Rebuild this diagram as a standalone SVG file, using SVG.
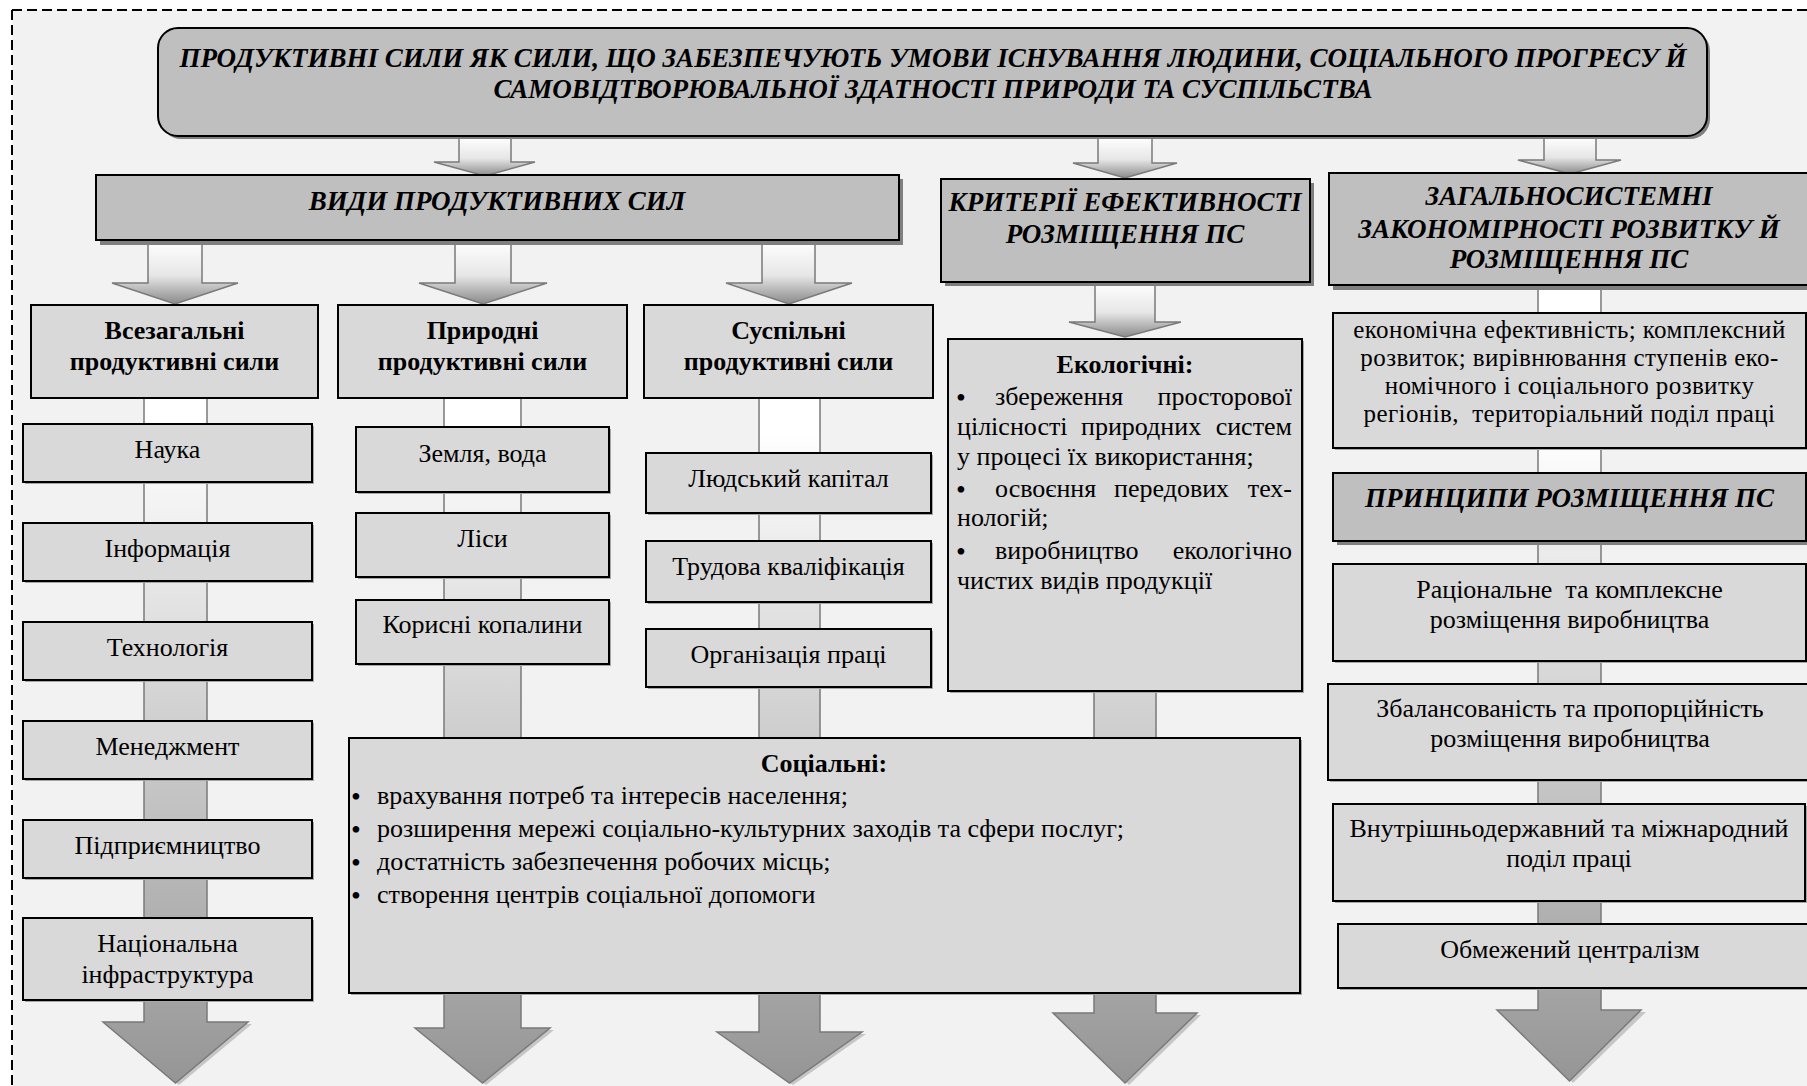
<svg xmlns="http://www.w3.org/2000/svg" width="1807" height="1086" viewBox="0 0 1807 1086">
<style>
.hb{font-family:"Liberation Serif",serif;font-weight:bold;font-style:italic;font-size:27px;text-anchor:middle;fill:#000}
.cb{font-family:"Liberation Serif",serif;font-weight:bold;font-size:26px;text-anchor:middle;fill:#000}
.t{font-family:"Liberation Serif",serif;font-size:26px;text-anchor:middle;fill:#000}
.ts{font-family:"Liberation Serif",serif;font-size:25px;letter-spacing:0.4px;text-anchor:middle;fill:#000}
.tl{font-family:"Liberation Serif",serif;font-size:26px;fill:#000}
.te{font-family:"Liberation Serif",serif;font-size:26px;text-anchor:end;fill:#000}
.bu{font-family:"Liberation Serif",serif;font-size:28px;fill:#000}
.hdr{fill:#bfbfbf;stroke:#000;stroke-width:2}
.itm{fill:#d9d9d9;stroke:#000;stroke-width:2}
.sh{fill:#7f7f7f}
.ish{fill:#a6a6a6}
.sa{fill:url(#gs);stroke:#7a7a7a;stroke-width:1.5}
.la{fill:url(#gl);stroke:#7a7a7a;stroke-width:1.5}
.hs{fill:#c6c6c6}
</style>
<defs>
<linearGradient id="gs" x1="0" y1="0" x2="0" y2="1">
<stop offset="0" stop-color="#ffffff"/>
<stop offset="0.55" stop-color="#e6e6e6"/>
<stop offset="1" stop-color="#8a8a8a"/>
</linearGradient>
<linearGradient id="gl" gradientUnits="userSpaceOnUse" x1="0" y1="390" x2="0" y2="1083">
<stop offset="0" stop-color="#ffffff"/>
<stop offset="0.06" stop-color="#ffffff"/>
<stop offset="1" stop-color="#959595"/>
</linearGradient>
</defs>
<rect x="0" y="0" width="1807" height="1086" fill="#ffffff"/>
<rect x="12" y="10" width="1795" height="1076" fill="#f2f2f2"/>
<path d="M12,10 H1807 M12,10 V1086" fill="none" stroke="#000" stroke-width="2" stroke-dasharray="10 5"/>

<g id="connectors">
<polygon class="hs" points="107,1024 252,1024 179,1085"/>
<polygon class="hs" points="419,1030 554,1030 486,1085"/>
<polygon class="hs" points="720,1034 866,1034 793,1085"/>
<polygon class="hs" points="1057,1015 1201,1015 1129,1085"/>
<polygon class="hs" points="1501,1012 1646,1012 1573,1083"/>
<polygon class="la" points="144,398 207,398 207,1022 248,1022 175.5,1083 103,1022 144,1022"/>
<polygon class="la" points="444,398 521,398 521,1028 550,1028 482.5,1083 415,1028 444,1028"/>
<polygon class="la" points="759,398 820,398 820,1032 862,1032 789.5,1083 717,1032 759,1032"/>
<polygon class="la" points="1094,690 1156,690 1156,1013 1197,1013 1125,1083 1053,1013 1094,1013"/>
<polygon class="la" points="1538,285 1601,285 1601,1010 1641,1010 1569.5,1081 1497,1010 1538,1010"/>
<polygon class="sa" points="459,137 511,137 511,162 535,162 485,176 434,162 459,162"/>
<polygon class="sa" points="1098,137 1152,137 1152,163 1177,163 1125,178 1073,163 1098,163"/>
<polygon class="sa" points="1544,137 1596,137 1596,160 1621,160 1570,174 1518,160 1544,160"/>
<polygon class="sa" points="148,241 202,241 202,283 238,283 175,304 112,283 148,283"/>
<polygon class="sa" points="455,241 511,241 511,283 547,283 483,304 419,283 455,283"/>
<polygon class="sa" points="762,241 815,241 815,283 852,283 789,304 726,283 762,283"/>
<polygon class="sa" points="1095,283 1155,283 1155,322 1181,322 1125,337 1069,322 1095,322"/>
</g>

<g id="top">
<rect class="sh" x="161" y="31" width="1549" height="108" rx="20"/>
<rect class="hdr" x="158" y="28" width="1549" height="108" rx="20"/>
<text class="hb" x="933" y="67">ПРОДУКТИВНІ СИЛИ ЯК СИЛИ, ЩО ЗАБЕЗПЕЧУЮТЬ УМОВИ ІСНУВАННЯ ЛЮДИНИ, СОЦІАЛЬНОГО ПРОГРЕСУ Й</text>
<text class="hb" x="933" y="98">САМОВІДТВОРЮВАЛЬНОЇ ЗДАТНОСТІ ПРИРОДИ ТА СУСПІЛЬСТВА</text>
</g>

<g id="vydy">
<rect class="sh" x="100" y="179" width="803" height="66"/>
<rect class="hdr" x="96" y="175" width="803" height="65"/>
<text class="hb" x="497" y="210">ВИДИ ПРОДУКТИВНИХ СИЛ</text>
</g>

<g id="kryterii">
<rect class="sh" x="945" y="183" width="369" height="103"/>
<rect class="hdr" x="941" y="179" width="369" height="103"/>
<text class="hb" x="1125" y="211">КРИТЕРІЇ ЕФЕКТИВНОСТІ</text>
<text class="hb" x="1125" y="243">РОЗМІЩЕННЯ ПС</text>
</g>

<g id="zagalnosystemni">
<rect class="sh" x="1333" y="177" width="480" height="113"/>
<rect class="hdr" x="1329" y="173" width="482" height="112"/>
<text class="hb" x="1569" y="205">ЗАГАЛЬНОСИСТЕМНІ</text>
<text class="hb" x="1569" y="238">ЗАКОНОМІРНОСТІ РОЗВИТКУ Й</text>
<text class="hb" x="1569" y="268">РОЗМІЩЕННЯ ПС</text>
</g>

<g id="vsezagalni">
<rect class="itm" x="31" y="305" width="287" height="93"/>
<text class="cb" x="174.5" y="339">Всезагальні</text>
<text class="cb" x="174.5" y="370">продуктивні сили</text>
</g>
<g id="pryrodni">
<rect class="itm" x="338" y="305" width="289" height="93"/>
<text class="cb" x="482.5" y="339">Природні</text>
<text class="cb" x="482.5" y="370">продуктивні сили</text>
</g>
<g id="suspilni">
<rect class="itm" x="644" y="305" width="289" height="93"/>
<text class="cb" x="788.5" y="339">Суспільні</text>
<text class="cb" x="788.5" y="370">продуктивні сили</text>
</g>

<g id="nauka"><rect class="ish" x="25" y="426" width="289" height="58"/><rect class="itm" x="23" y="424" width="289" height="58"/><text class="t" x="167.5" y="458">Наука</text></g>
<g id="informatsiia"><rect class="ish" x="25" y="525" width="289" height="58"/><rect class="itm" x="23" y="523" width="289" height="58"/><text class="t" x="167.5" y="557">Інформація</text></g>
<g id="tekhnolohiia"><rect class="ish" x="25" y="624" width="289" height="58"/><rect class="itm" x="23" y="622" width="289" height="58"/><text class="t" x="167.5" y="656">Технологія</text></g>
<g id="menedzhment"><rect class="ish" x="25" y="723" width="289" height="58"/><rect class="itm" x="23" y="721" width="289" height="58"/><text class="t" x="167.5" y="755">Менеджмент</text></g>
<g id="pidpryiemnytstvo"><rect class="ish" x="25" y="822" width="289" height="58"/><rect class="itm" x="23" y="820" width="289" height="58"/><text class="t" x="167.5" y="854">Підприємництво</text></g>
<g id="natsionalna"><rect class="ish" x="25" y="920" width="289" height="82"/><rect class="itm" x="23" y="918" width="289" height="82"/><text class="t" x="167.5" y="952">Національна</text><text class="t" x="167.5" y="983">інфраструктура</text></g>

<g id="zemlia"><rect class="ish" x="358" y="429" width="253" height="65"/><rect class="itm" x="356" y="427" width="253" height="65"/><text class="t" x="482.5" y="462">Земля, вода</text></g>
<g id="lisy"><rect class="ish" x="358" y="515" width="253" height="64"/><rect class="itm" x="356" y="513" width="253" height="64"/><text class="t" x="482.5" y="547">Ліси</text></g>
<g id="kopalyny"><rect class="ish" x="358" y="602" width="253" height="64"/><rect class="itm" x="356" y="600" width="253" height="64"/><text class="t" x="482.5" y="633">Корисні копалини</text></g>

<g id="kapital"><rect class="ish" x="648" y="455" width="285" height="60"/><rect class="itm" x="646" y="453" width="285" height="60"/><text class="t" x="788.5" y="487">Людський капітал</text></g>
<g id="kvalifikatsiia"><rect class="ish" x="648" y="543" width="285" height="61"/><rect class="itm" x="646" y="541" width="285" height="61"/><text class="t" x="788.5" y="575">Трудова кваліфікація</text></g>
<g id="orhanizatsiia"><rect class="ish" x="648" y="631" width="285" height="58"/><rect class="itm" x="646" y="629" width="285" height="58"/><text class="t" x="788.5" y="663">Організація праці</text></g>

<g id="ekolohichni">
<rect class="ish" x="950" y="341" width="354" height="352"/>
<rect class="itm" x="948" y="339" width="354" height="352"/>
<text class="cb" x="1125" y="373">Екологічні:</text>
<text class="bu" x="956" y="407">•</text><text class="tl" x="995" y="405">збереження</text><text class="te" x="1292" y="405">просторової</text>
<text class="tl" x="957" y="435">цілісності</text><text class="tl" x="1081" y="435">природних</text><text class="te" x="1292" y="435">систем</text>
<text class="tl" x="957" y="465">у процесі їх використання;</text>
<text class="bu" x="956" y="499">•</text><text class="tl" x="995" y="497">освоєння</text><text class="tl" x="1114" y="497">передових</text><text class="te" x="1292" y="497">тех-</text>
<text class="tl" x="957" y="526">нологій;</text>
<text class="bu" x="956" y="561">•</text><text class="tl" x="995" y="559">виробництво</text><text class="te" x="1292" y="559">екологічно</text>
<text class="tl" x="957" y="589">чистих видів продукції</text>
</g>

<g id="sotsialni">
<rect class="ish" x="351" y="740" width="951" height="255"/>
<rect class="itm" x="349" y="738" width="951" height="255"/>
<text class="cb" x="824" y="772">Соціальні:</text>
<text class="bu" x="351" y="806">•</text><text class="tl" x="377" y="804">врахування потреб та інтересів населення;</text>
<text class="bu" x="351" y="839">•</text><text class="tl" x="377" y="837">розширення мережі соціально-культурних заходів та сфери послуг;</text>
<text class="bu" x="351" y="872">•</text><text class="tl" x="377" y="870">достатність забезпечення робочих місць;</text>
<text class="bu" x="351" y="905">•</text><text class="tl" x="377" y="903">створення центрів соціальної допомоги</text>
</g>

<g id="ekonomichna">
<rect class="ish" x="1335" y="315" width="473" height="135"/>
<rect class="itm" x="1333" y="313" width="473" height="135"/>
<text class="ts" x="1569.5" y="338">економічна ефективність; комплексний</text>
<text class="ts" x="1569.5" y="366">розвиток; вирівнювання ступенів еко-</text>
<text class="ts" x="1569.5" y="394">номічного і соціального розвитку</text>
<text class="ts" x="1569.5" y="422" xml:space="preserve">регіонів,  територіальний поділ праці</text>
</g>

<g id="pryntsypy">
<rect class="sh" x="1337" y="477" width="473" height="68"/>
<rect class="hdr" x="1333" y="473" width="473" height="68"/>
<text class="hb" x="1569.5" y="507">ПРИНЦИПИ РОЗМІЩЕННЯ ПС</text>
</g>

<g id="ratsionalne"><rect class="ish" x="1335" y="566" width="473" height="97"/><rect class="itm" x="1333" y="564" width="473" height="97"/><text class="t" x="1569.5" y="598" xml:space="preserve">Раціональне  та комплексне</text><text class="t" x="1569.5" y="628">розміщення виробництва</text></g>
<g id="zbalansovanist"><rect class="ish" x="1330" y="686" width="485" height="96"/><rect class="itm" x="1328" y="684" width="485" height="96"/><text class="t" x="1570" y="717">Збалансованість та пропорційність</text><text class="t" x="1570" y="747">розміщення виробництва</text></g>
<g id="podil"><rect class="ish" x="1335" y="806" width="472" height="97"/><rect class="itm" x="1333" y="804" width="472" height="97"/><text class="t" x="1569" y="837">Внутрішньодержавний та міжнародний</text><text class="t" x="1569" y="867">поділ праці</text></g>
<g id="tsentralizm"><rect class="ish" x="1340" y="926" width="475" height="64"/><rect class="itm" x="1338" y="924" width="475" height="64"/><text class="t" x="1570" y="958">Обмежений централізм</text></g>
</svg>
